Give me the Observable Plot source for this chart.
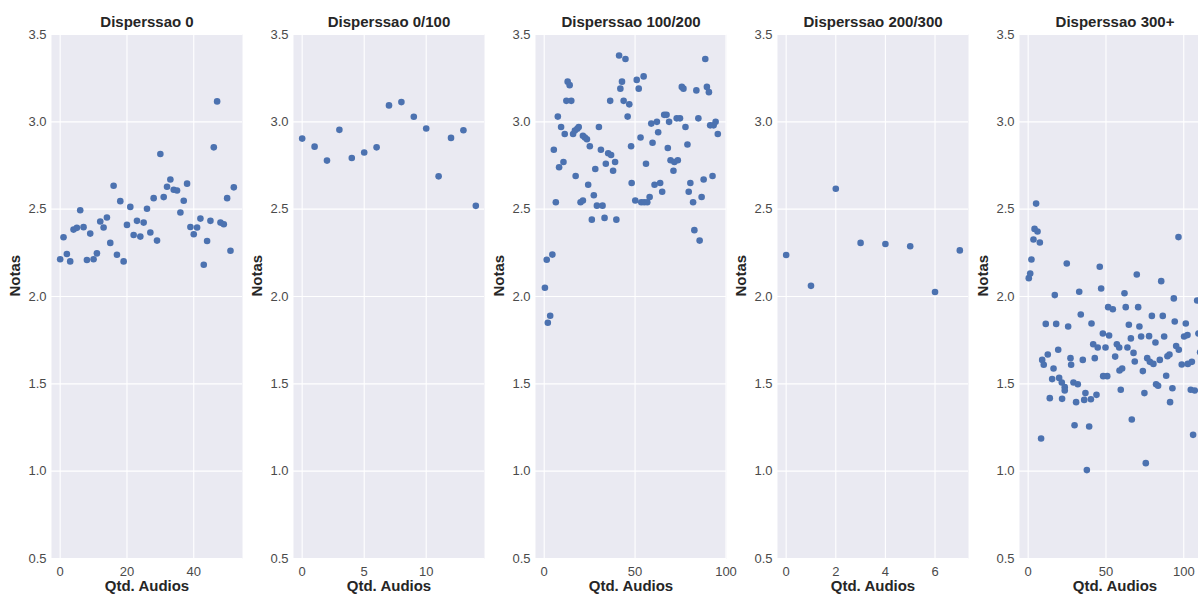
<!DOCTYPE html>
<html>
<head>
<meta charset="utf-8">
<script src="https://cdn.jsdelivr.net/npm/d3@7"></script>
<script src="https://cdn.jsdelivr.net/npm/@observablehq/plot@0.6"></script>
<style>
html, body { margin: 0; padding: 0; background: #ffffff; overflow: hidden; }
#chart { position: relative; width: 1210px; height: 595px; }
#chart svg { position: absolute; top: 0; max-width: none; overflow: visible; background: transparent; }
</style>
</head>
<body>
<div id="chart"></div>
<script>
// ---- data ----
const titles = ["Disperssao 0", "Disperssao 0/100", "Disperssao 100/200", "Disperssao 200/300", "Disperssao 300+"];
const xLabel = "Qtd. Audios";
const yLabel = "Notas";
const yTicks = [0.5, 1.0, 1.5, 2.0, 2.5, 3.0, 3.5];

const xTicks1 = [0, 20, 40];
const xTicks2 = [0, 5, 10];
const xTicks3 = [0, 50, 100];
const xTicks4 = [0, 2, 4, 6];
const xTicks5 = [0, 50, 100];

// Disperssao 0
const p1x = [0,1,2,3,4,5,6,7,8,9,10,11,12,13,14,15,16,17,18,19,20,21,22,23,24,25,26,27,28,29,30,31,32,33,34,35,36,37,38,39,40,41,42,43,44,45,46,47,48,49,50,51,52];
const p1y = [2.213,2.339,2.243,2.201,2.383,2.393,2.494,2.397,2.209,2.360,2.213,2.247,2.429,2.395,2.452,2.307,2.634,2.239,2.546,2.201,2.410,2.513,2.352,2.433,2.343,2.423,2.502,2.366,2.563,2.320,2.816,2.569,2.628,2.670,2.611,2.607,2.481,2.548,2.646,2.398,2.356,2.395,2.446,2.182,2.318,2.433,2.854,3.117,2.423,2.414,2.563,2.262,2.625];

// Disperssao 0/100
const p2x = [0,1,2,3,4,5,6,7,8,9,10,11,12,13,14];
const p2y = [2.904,2.858,2.778,2.954,2.793,2.824,2.854,3.094,3.113,3.029,2.962,2.688,2.908,2.952,2.519];

// Disperssao 100/200
const p3x = [0.4,1.4,2.0,3.3,4.5,5.3,6.4,7.5,8.2,9.3,
             10.6,11.3,12.2,12.9,14.0,14.9,15.9,16.9,17.3,18.2,
             19.0,20.0,21.3,21.3,22.4,23.5,24.2,25.1,26.2,27.3,
             28.1,29.0,30.1,31.2,32.1,33.2,33.9,35.2,36.3,36.8,
             37.9,39.0,39.7,41.2,41.9,42.8,43.7,44.7,45.9,46.8,
             47.8,48.1,50.1,50.9,52.0,53.0,53.4,54.7,55.0,56.0,
             56.7,58.0,58.9,59.6,60.7,62.0,62.7,63.8,64.9,66.0,
             67.3,68.0,68.7,69.5,71.1,71.6,72.9,73.5,74.7,75.7,
             76.6,77.7,78.8,79.5,80.4,81.9,82.6,83.7,84.8,85.5,
             86.6,87.7,88.6,89.5,90.6,91.3,92.6,93.2,94.3,95.5];
const p3y = [2.05,2.21,1.85,1.89,2.24,2.84,2.54,3.03,2.74,2.97,
             2.77,2.93,3.12,3.23,3.21,3.12,2.93,2.95,2.69,2.96,
             2.97,2.54,2.55,2.92,2.91,2.90,2.64,2.86,2.44,2.58,
             2.73,2.52,2.97,2.84,2.52,2.45,2.76,2.82,3.12,2.81,
             2.72,2.77,2.44,3.38,3.19,3.23,3.12,3.36,3.03,3.10,
             2.86,2.65,2.55,3.24,3.19,2.91,2.54,3.26,2.54,2.76,
             2.54,2.57,2.99,2.88,2.64,3.00,2.94,2.65,2.60,3.04,
             3.04,2.85,3.00,2.78,2.72,2.77,3.02,2.78,3.02,3.20,
             3.19,2.97,2.87,2.60,2.65,2.54,2.38,3.18,3.02,2.32,
             2.57,2.67,3.36,3.20,3.17,2.98,2.69,2.98,3.00,2.93];

// Disperssao 200/300
const p4x = [0,1,2,3,4,5,6,7];
const p4y = [2.238,2.061,2.617,2.307,2.301,2.288,2.026,2.264];

// Disperssao 300+
const p5x = [0.4,1.3,2.1,3.4,4.1,5.1,6.0,7.5,8.3,9.0,
             10.0,11.3,12.6,13.9,15.4,16.3,17.1,18.0,19.3,19.9,
             21.6,21.8,23.5,23.5,24.8,25.7,27.2,27.6,29.1,29.8,
             30.8,31.9,32.8,33.8,35.1,36.0,36.8,37.7,39.2,40.3,
             40.7,41.8,42.8,43.9,44.7,46.0,46.9,48.0,48.2,49.7,
             50.8,51.4,52.0,54.4,55.9,57.0,58.5,58.7,59.5,60.4,
             61.9,62.7,63.8,64.7,66.0,66.6,67.7,68.5,69.8,70.7,
             71.5,72.6,73.7,74.7,75.6,76.5,77.7,78.2,79.5,80.5,
             81.8,82.2,83.5,84.6,85.5,86.5,87.4,88.7,89.5,90.8,
             91.2,92.7,93.6,94.2,95.1,96.6,96.8,98.7,100.2,101.3,
             102.4,102.6,104.5,105.2,106.0,107.1,108.6,109.4,110.5];
const p5y = [2.105,2.132,2.212,2.326,2.387,2.532,2.372,2.309,1.187,1.637,
             1.609,1.843,1.668,1.418,1.527,1.588,2.008,1.843,1.695,1.534,
             1.508,1.414,1.481,1.462,2.189,1.828,1.647,1.609,1.508,1.263,
             1.395,1.498,2.027,1.897,1.637,1.408,1.447,1.006,1.256,1.412,
             1.845,1.727,1.647,1.437,1.708,2.170,2.046,1.788,1.544,1.708,
             1.544,1.939,1.777,1.927,1.656,1.727,1.708,1.576,1.466,1.588,
             2.019,1.939,1.708,1.838,1.760,1.296,1.677,1.628,2.126,1.939,
             1.828,1.771,1.573,1.447,1.046,1.647,1.773,1.626,1.889,1.614,
             1.737,1.498,1.489,1.637,2.088,1.889,1.771,1.546,1.658,1.668,
             1.395,1.475,1.989,1.857,1.717,2.340,1.695,1.611,1.771,1.845,
             1.779,1.614,1.466,1.626,1.208,1.462,1.977,1.788,1.681];

// ---- scale settings (matplotlib-style 5% padding) ----
const xDomains = [[-2.6, 54.6], [-0.7, 14.7], [-4.78, 100.28], [-0.35, 7.35], [-5.58, 117.18]];

// ---- style ----
const FONT = '"Liberation Sans", Arial, Helvetica, sans-serif';
const BG = "#EAEAF2";
const DOT = "#4C72B0";
const TICK = "#4a4a4a";
const LABEL = "#262626";
const PANEL_W = 242;

const panels = [
  [p1x, p1y, xTicks1],
  [p2x, p2y, xTicks2],
  [p3x, p3y, xTicks3],
  [p4x, p4y, xTicks4],
  [p5x, p5y, xTicks5]
];

const chart = document.getElementById("chart");

panels.forEach(([xs, ys, ticks], i) => {
  const data = xs.map((x, k) => ({x, y: ys[k]}));
  const svg = Plot.plot({
    width: PANEL_W,
    height: 595,
    marginLeft: 51,
    marginRight: 0,
    marginTop: 34,
    marginBottom: 37,
    style: {fontFamily: FONT, background: "transparent", overflow: "visible"},
    x: {domain: xDomains[i], label: null},
    y: {domain: [0.5, 3.5], label: null},
    marks: [
      Plot.frame({fill: BG, stroke: "none"}),
      Plot.gridX(ticks, {stroke: "#ffffff", strokeOpacity: 1, strokeWidth: 1.1}),
      Plot.gridY(yTicks, {stroke: "#ffffff", strokeOpacity: 1, strokeWidth: 1.1}),
      Plot.axisX(ticks, {tickSize: 0, tickPadding: 8, fontSize: 13, color: TICK, label: null}),
      Plot.axisY(yTicks, {tickSize: 0, tickPadding: 5, fontSize: 13, color: TICK, label: null, tickFormat: d3.format(".1f")}),
      Plot.dot(data, {x: "x", y: "y", r: 3.3, fill: DOT}),
      Plot.text([titles[i]], {text: d => d, frameAnchor: "top", dy: -12.25, fontSize: 15, fontWeight: "bold", fill: LABEL, lineAnchor: "middle"}),
      Plot.text([xLabel], {text: d => d, frameAnchor: "bottom", dy: 28, fontSize: 15, fontWeight: "bold", fill: LABEL, lineAnchor: "middle"}),
      Plot.text([yLabel], {text: d => d, frameAnchor: "left", dx: -36, rotate: -90, fontSize: 15, fontWeight: "bold", fill: LABEL, lineAnchor: "middle"})
    ]
  });
  svg.style.left = (PANEL_W * i) + "px";
  chart.appendChild(svg);
});
</script>
</body>
</html>
